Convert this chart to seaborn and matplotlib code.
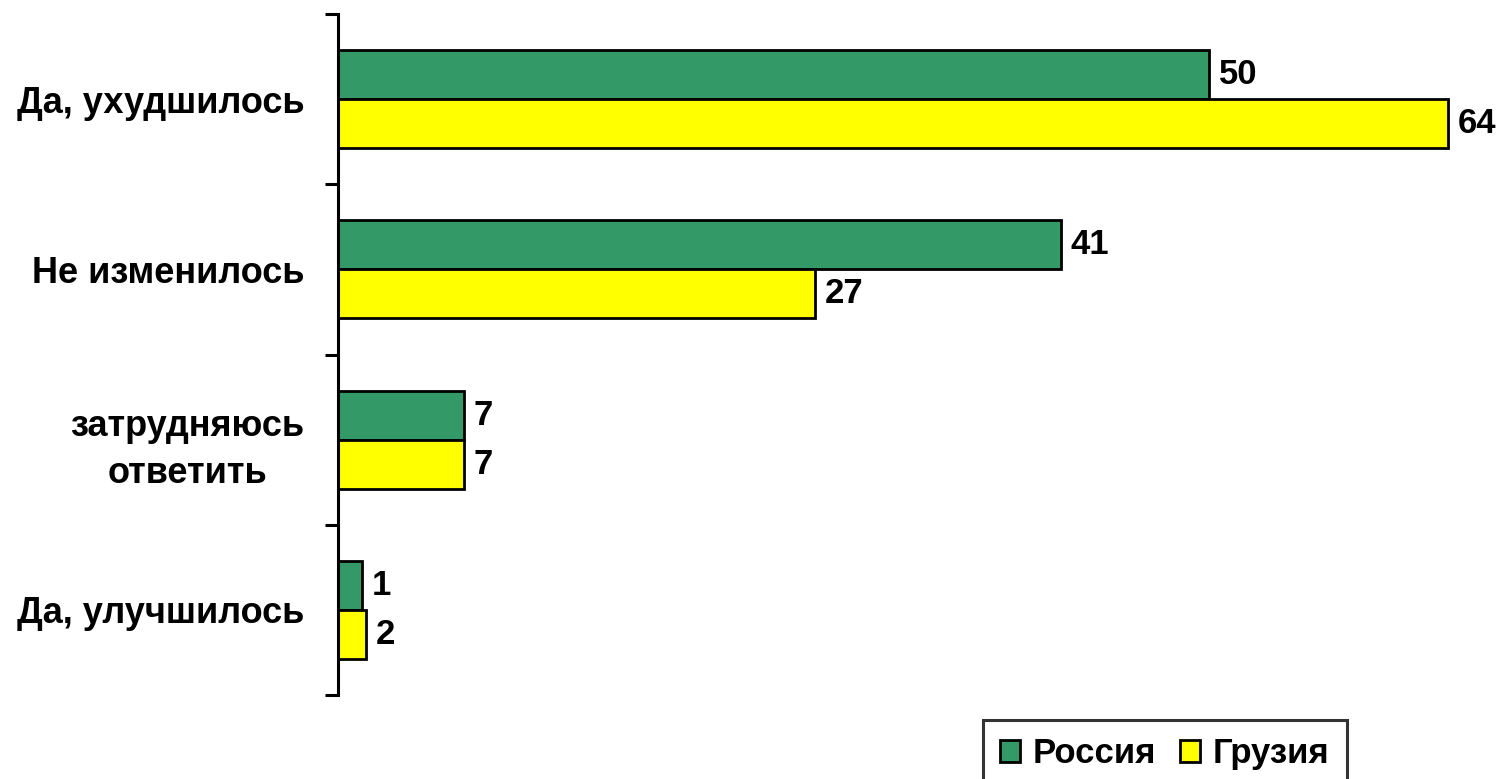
import matplotlib
matplotlib.use("Agg")
import matplotlib.pyplot as plt
import seaborn as sns
import pandas as pd
from matplotlib.patches import Patch

categories = ["Да, ухудшилось", "Не изменилось", "затрудняюсь\nответить", "Да, улучшилось"]
series_names = ["Россия", "Грузия"]
russia = [49.9, 41.4, 7.2, 1.4]
georgia = [63.6, 27.3, 7.2, 1.6]
colors = ["#339966", "#FFFF00"]

sns.set_style("white")
plt.rcParams["font.family"] = ["Liberation Sans", "DejaVu Sans"]
plt.rcParams["font.weight"] = "bold"
plt.rcParams["text.color"] = "black"
plt.rcParams["ytick.color"] = "black"
plt.rcParams["ytick.labelcolor"] = "black"

df = pd.DataFrame({
    "category": categories * 2,
    "value": russia + georgia,
    "country": [series_names[0]] * 4 + [series_names[1]] * 4,
})

W, H = 1503, 779
fig = plt.figure(figsize=(W / 100, H / 100), dpi=100)
left_px, top_px, bot_px, width_px = 338, 14, 695, 1152.4
ax = fig.add_axes([left_px / W, 1 - bot_px / H, width_px / W, (bot_px - top_px) / H])

sns.barplot(data=df, y="category", x="value", hue="country", order=categories,
            hue_order=series_names, palette=colors, orient="h", width=0.576,
            edgecolor="black", linewidth=2, legend=False, ax=ax, saturation=1)

for cont in ax.containers:
    ax.bar_label(cont, labels=[f"{v.get_width():.0f}" for v in cont], padding=7,
                 fontsize=25, fontweight="bold", color="black")

ax.set_xlim(0, 66)
ax.set_ylim(3.5, -0.5)
ax.set_xlabel("")
ax.set_ylabel("")
ax.set_xticks([])
for s in ["top", "right", "bottom"]:
    ax.spines[s].set_visible(False)
ax.spines["left"].set_linewidth(2.2)
ax.spines["left"].set_color("black")

ax.set_yticks([-0.5, 0.5, 1.5, 2.5, 3.5], labels=[])
ax.set_yticks([0, 1, 2, 3], labels=categories, minor=True)
ax.tick_params(axis="y", which="major", left=True, length=9.4, width=2.2,
               direction="out", color="black")
ax.tick_params(axis="y", which="minor", left=True, length=0, pad=24, labelsize=26,
               labelcolor="black")
for lab in ax.get_yticklabels(minor=True):
    lab.set_fontweight("bold")
    lab.set_multialignment("center")
    lab.set_linespacing(1.45)

handles = [Patch(facecolor=c, edgecolor="black", linewidth=2) for c in colors]
leg = fig.legend(handles, series_names, loc="upper left",
                 bbox_to_anchor=(983 / W, 1 - 720 / H), bbox_transform=fig.transFigure,
                 ncol=2, frameon=True, fancybox=False,
                 prop={"weight": "bold", "size": 25},
                 handlelength=0.58, handleheight=0.58, handletextpad=0.35,
                 columnspacing=0.7, borderpad=0.5, borderaxespad=0)
leg.get_frame().set_edgecolor("black")
leg.get_frame().set_linewidth(2.2)
for t in leg.get_texts():
    t.set_color("black")

fig.savefig("out.png", dpi=100, facecolor="white")
